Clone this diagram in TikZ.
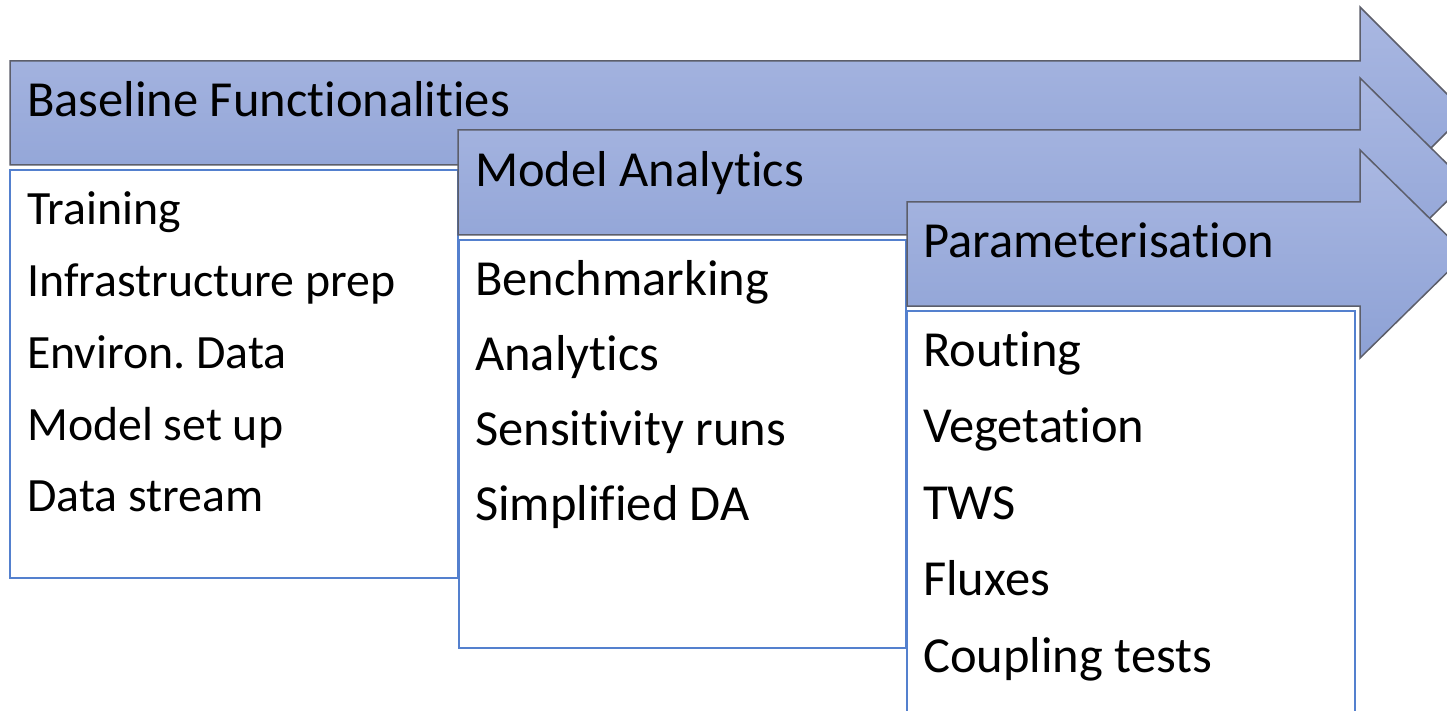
\documentclass[tikz,border=0pt]{standalone}
\usepackage{fontspec}
\setmainfont{Carlito}[Ligatures=CommonOff]
\usetikzlibrary{positioning}
\frenchspacing

\definecolor{arrowtop}{RGB}{170,184,226}
\definecolor{arrowbot}{RGB}{141,161,213}
\definecolor{arrowline}{RGB}{92,94,106}
\definecolor{boxline}{RGB}{84,128,206}

\begin{document}
\begin{tikzpicture}[
        x = 1pt, y = -1pt,
        line join=miter,
        phasearrow/.style = {draw=arrowline, line width=1.5pt, top color=arrowtop, bottom color=arrowbot},
        listbox/.style = {draw=boxline, line width=1.8pt, fill=white},
        titletext/.style = {anchor=base west, inner sep=0pt, font=\fontsize{50.5}{60}\selectfont},
        itemtext/.style = {anchor=base west, inner sep=0pt, font=\fontsize{50.5}{60}\selectfont},
        smallitem/.style = {anchor=base west, inner sep=0pt, font=\fontsize{47.8}{57}\selectfont}
    ]
        \useasboundingbox (0,0) rectangle (1447,711);
        \clip (0,0) rectangle (1447,711);

        % arrow 1
        \path[phasearrow] (10,61) -- (1360,61) -- (1360,7) -- (1466,113) -- (1360,219)
            -- (1360,165) -- (10,165) -- cycle;
        \node[titletext] (base-title) at (27,117) {Baseline Functionalities};

        \draw[listbox] (10,170) rectangle (458,578);
        \node[smallitem] (base-1) at (27,225) {Training};
        \node[smallitem] (base-2) at (27,296) {Infrastructure prep};
        \node[smallitem] (base-3) at (27,368) {Environ. Data};
        \node[smallitem] (base-4) at (27,440) {Model set up};
        \node[smallitem] (base-5) at (27,511) {Data stream};

        % arrow 2
        \path[phasearrow] (458,130) -- (1360,130) -- (1360,78) -- (1466,182.5) -- (1360,287)
            -- (1360,235) -- (458,235) -- cycle;
        \node[titletext] (model-title) at (475,187) {Model Analytics};

        \draw[listbox] (459,240) rectangle (906,648);
        \node[itemtext] (model-1) at (475,295) {Benchmarking};
        \node[itemtext] (model-2) at (475,370) {Analytics};
        \node[itemtext] (model-3) at (475,445) {Sensitivity runs};
        \node[itemtext] (model-4) at (475,520) {Simplified DA};

        % arrow 3
        \path[phasearrow] (907,202) -- (1360,202) -- (1360,150) -- (1466,254) -- (1360,358)
            -- (1360,306) -- (907,306) -- cycle;
        \node[titletext] (param-title) at (923,258) {Parameterisation};

        \draw[listbox] (907,311) rectangle (1355,740);
        \node[itemtext] (param-1) at (923,366) {Routing};
        \node[itemtext] (param-2) at (923,442) {Vegetation};
        \node[itemtext] (param-3) at (923,519) {TWS};
        \node[itemtext] (param-4) at (923,595) {Fluxes};
        \node[itemtext] (param-5) at (923,672) {Coupling tests};

    \end{tikzpicture}
\end{document}
